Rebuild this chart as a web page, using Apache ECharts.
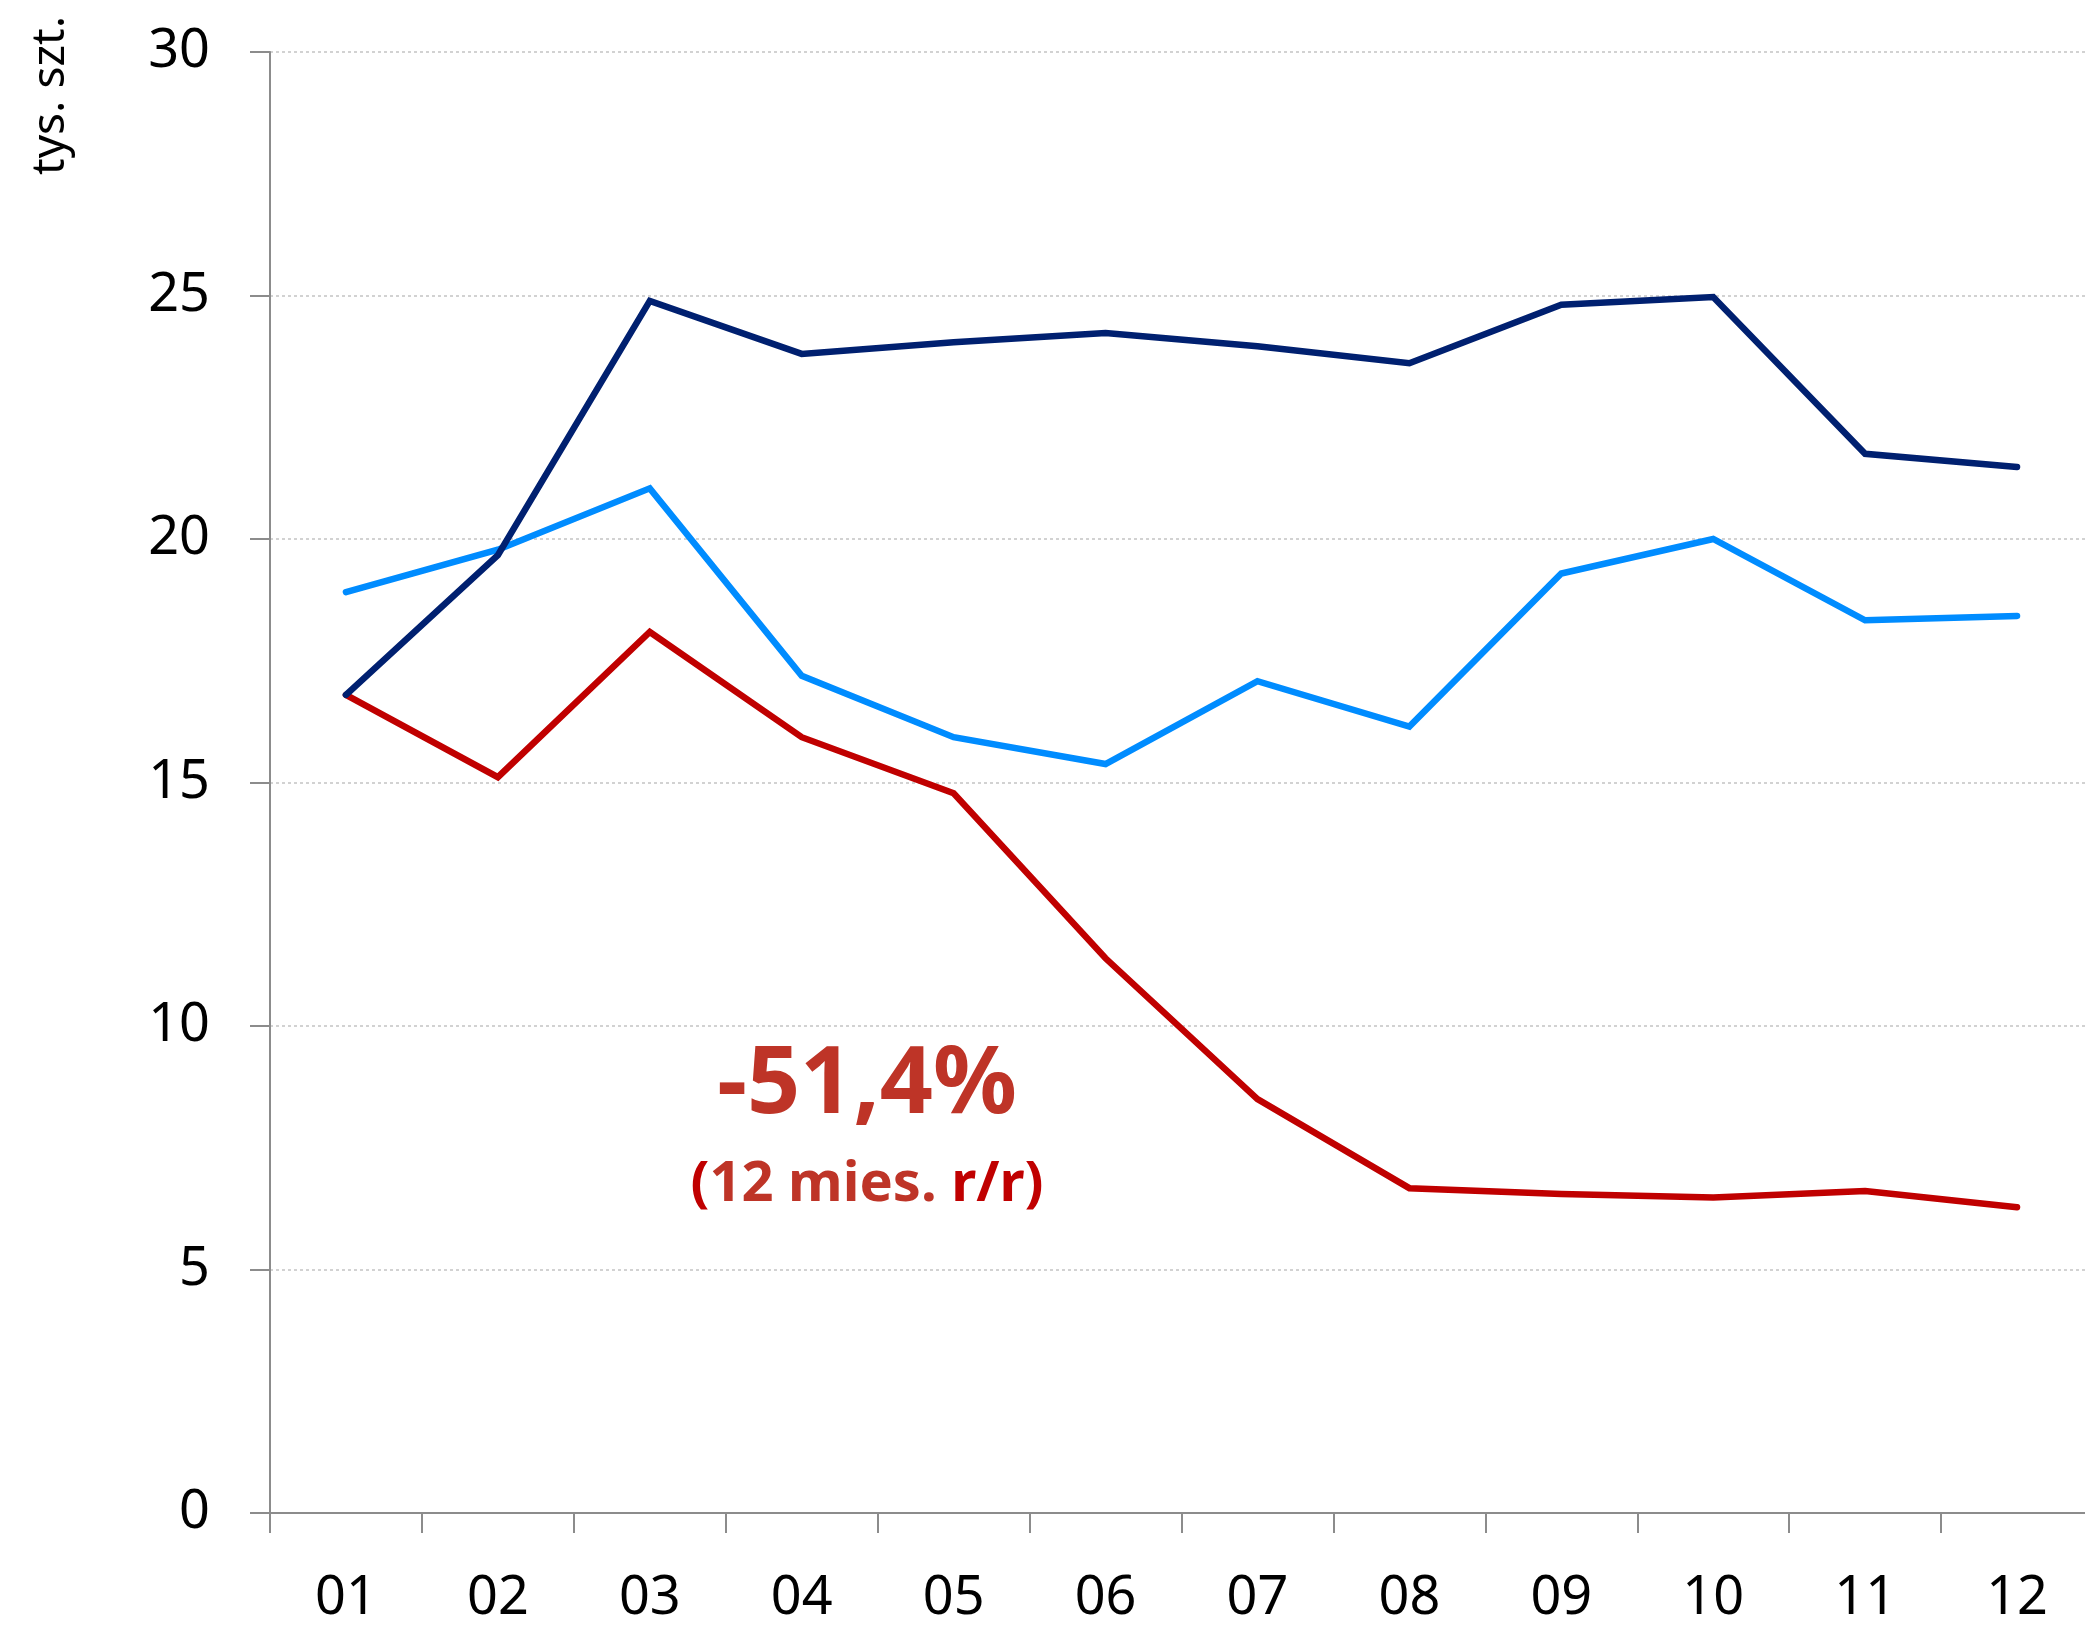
<!DOCTYPE html>
<html lang="pl">
<head>
<meta charset="UTF-8">
<title>tys. szt.</title>
<script src="https://cdn.jsdelivr.net/npm/echarts@6/dist/echarts.min.js"></script>
<style>
  html, body { margin: 0; padding: 0; background: #fff; }
  #main { width: 2085px; height: 1625px; }
</style>
</head>
<body>
<div id="main"></div>
<script>
var months = ['01', '02', '03', '04', '05', '06', '07', '08', '09', '10', '11', '12'];
var navySeries = [16.8, 19.67, 24.89, 23.8, 24.04, 24.23, 23.96, 23.61, 24.81, 24.97, 21.75, 21.48];
var blueSeries = [18.91, 19.78, 21.04, 17.19, 15.93, 15.38, 17.08, 16.15, 19.29, 20.0, 18.33, 18.42];
var redSeries = [16.8, 15.11, 18.09, 15.93, 14.78, 11.39, 8.5, 6.67, 6.55, 6.48, 6.61, 6.28];
var yTicks = [0, 5, 10, 15, 20, 25, 30];

var font = '"Noto Sans", "Open Sans", sans-serif';
var axisGray = '#8c8c8c';

var myChart = echarts.init(document.getElementById('main'));

function lineSeries(name, data, color) {
    return {
        name: name,
        type: 'line',
        data: data,
        symbol: 'none',
        lineStyle: { color: color, width: 6.5, cap: 'round', join: 'miter' },
        animation: false
    };
}

myChart.setOption({
    backgroundColor: '#ffffff',
    animation: false,
    // the plot runs a few pixels past the right edge in the original
    grid: { left: 270, top: 52, width: 1823, bottom: 112, outerBoundsMode: 'none' },
    xAxis: {
        type: 'category',
        data: months,
        boundaryGap: true,
        axisLine: { lineStyle: { color: axisGray, width: 2 } },
        axisTick: { show: true, interval: 0, length: 20, lineStyle: { color: axisGray, width: 2 } },
        axisLabel: { color: '#000', fontFamily: font, fontSize: 54, margin: 59, interval: 0 },
        splitLine: { show: false }
    },
    yAxis: {
        type: 'value',
        min: yTicks[0],
        max: yTicks[yTicks.length - 1],
        interval: 5,
        axisLine: { show: true, lineStyle: { color: axisGray, width: 2 } },
        axisTick: { show: true, length: 20, lineStyle: { color: axisGray, width: 2 } },
        axisLabel: { color: '#000', fontFamily: font, fontSize: 54, margin: 60 },
        splitLine: { show: true, lineStyle: { color: '#c4c4c4', width: 1.5, type: [3, 3] } }
    },
    graphic: [
        {
            type: 'text',
            x: 51,
            y: 16,
            rotation: Math.PI / 2,
            style: {
                text: 'tys. szt.',
                fontFamily: font,
                fontSize: 46,
                fill: '#000',
                textAlign: 'right',
                textVerticalAlign: 'middle'
            }
        },
        {
            type: 'text',
            x: 867,
            y: 1086,
            style: {
                text: '-51,4%',
                fontFamily: font,
                fontWeight: 'bold',
                fontSize: 93,
                fill: '#be3427',
                textAlign: 'center',
                textVerticalAlign: 'middle'
            }
        },
        {
            type: 'text',
            x: 867,
            y: 1185,
            style: {
                text: '{a|(}{b|12 mies. }{a|r/r)}',
                fontFamily: font,
                fontWeight: 'bold',
                fontSize: 56,
                textAlign: 'center',
                textVerticalAlign: 'middle',
                rich: {
                    a: { fontFamily: font, fontWeight: 'bold', fontSize: 56, fill: '#c00000', color: '#c00000' },
                    b: { fontFamily: font, fontWeight: 'bold', fontSize: 56, fill: '#be3427', color: '#be3427' }
                }
            }
        }
    ],
    series: [
        lineSeries('light', blueSeries, '#008cff'),
        lineSeries('red', redSeries, '#c00000'),
        lineSeries('navy', navySeries, '#002070')
    ]
});
</script>
</body>
</html>
